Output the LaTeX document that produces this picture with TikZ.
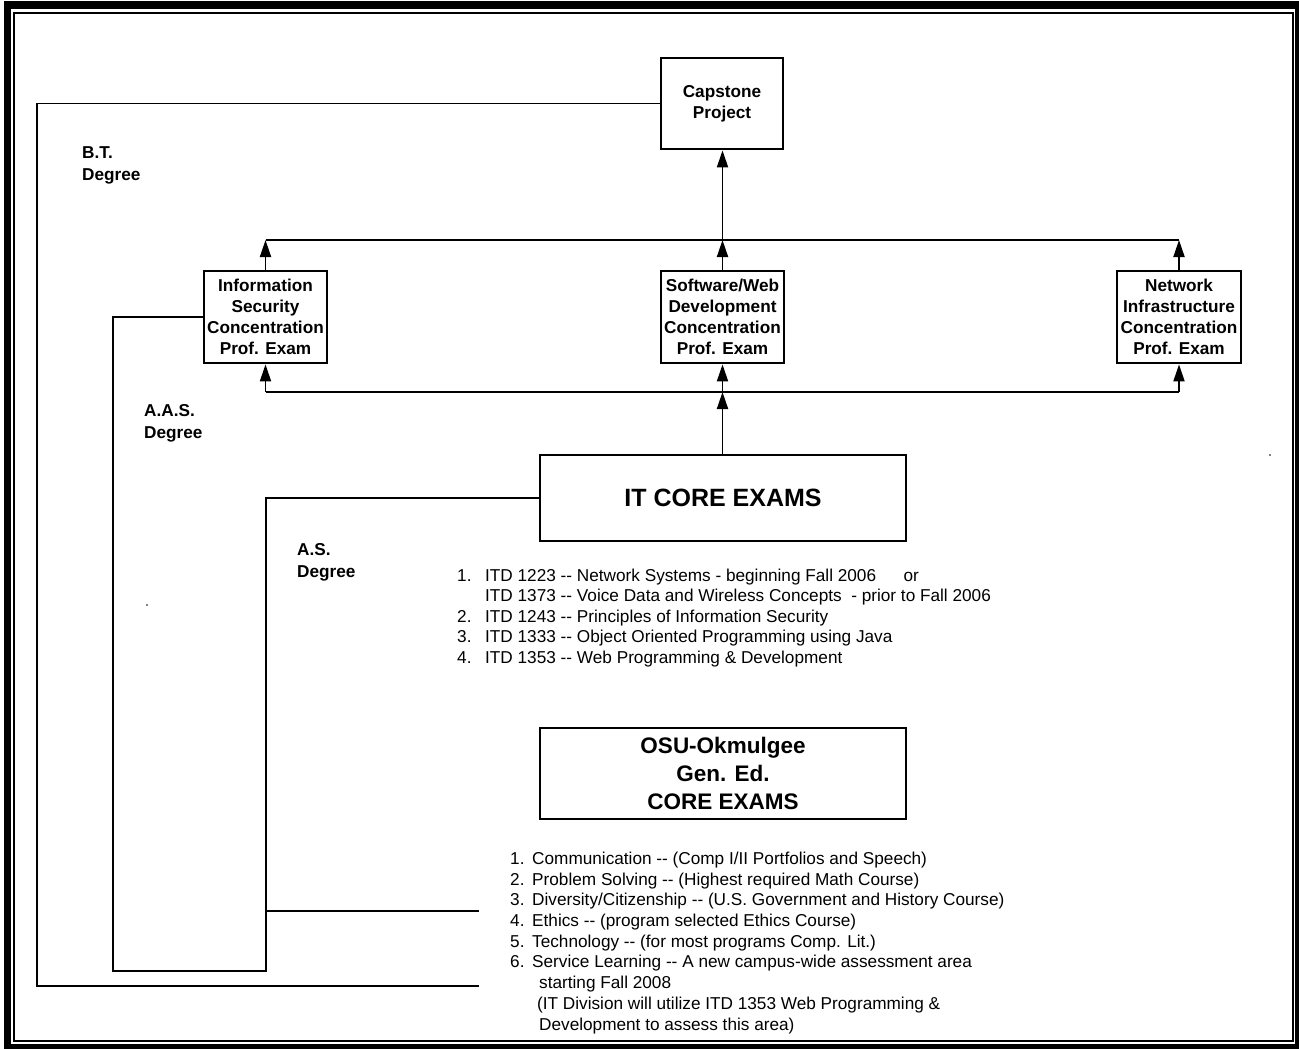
\documentclass[tikz,border=0pt]{standalone}
\usepackage{fontspec}
\setmainfont{Liberation Sans}
\usetikzlibrary{arrows.meta}
\newcommand{\dd}{-{}-}
\begin{document}
\begin{tikzpicture}[x=1pt,y=-1pt,
  box/.style={draw,line width=2.8pt,inner sep=0pt,align=center,font=\bfseries\fontsize{17.2}{21}\selectfont},
  conn/.style={line width=1.9pt},
  arr/.style={conn,-{Triangle[length=17pt,width=11pt]}},
  lbl/.style={align=left,font=\bfseries\fontsize{17.2}{22}\selectfont,anchor=north west,inner sep=0pt},
  item/.style={anchor=base west,inner sep=0pt,font=\fontsize{17.2}{20}\selectfont}]
\useasboundingbox (0,0) rectangle (1299,1049);
% frame
\draw[line width=7.5pt] (7.5,5) rectangle (1298.5,1047.5);
\draw[line width=2pt] (13.5,13) rectangle (1292.5,1041);

% boxes
\node[box,minimum width=122pt,minimum height=91pt] (cap) at (722,103.5) {Capstone\\Project};
\node[box,minimum width=123pt,minimum height=92pt] (is) at (265.5,317) {Information\\Security\\Concentration\\Prof. Exam};
\node[box,minimum width=123pt,minimum height=92pt] (sw) at (722.5,317) {Software/Web\\Development\\Concentration\\Prof. Exam};
\node[box,minimum width=124pt,minimum height=92pt] (ni) at (1179,317) {Network\\Infrastructure\\Concentration\\Prof. Exam};
\node[box,minimum width=366pt,minimum height=86pt,font=\bfseries\fontsize{25}{30}\selectfont] (itc) at (723,498) {IT CORE EXAMS};
\node[box,minimum width=366pt,minimum height=91pt,font=\bfseries\fontsize{22.5}{28}\selectfont] (osu) at (723,773.5) {OSU-Okmulgee\\Gen. Ed.\\CORE EXAMS};

% buses and arrows
\coordinate (bt) at (722.5,240);
\coordinate (bb) at (722.5,392);
\draw[conn] (is.north |- bt) -- (ni.north |- bt);
\draw[conn] (is.south |- bb) -- (ni.south |- bb);
\draw[arr] (is.north) -- (is.north |- bt);
\draw[arr] (sw.north) -- (sw.north |- bt);
\draw[arr] (ni.north) -- (ni.north |- bt);
\draw[arr] (bt) -- (bt |- cap.south);
\draw[arr] (is.south |- bb) -- (is.south);
\draw[arr] (sw.south |- bb) -- (sw.south);
\draw[arr] (ni.south |- bb) -- (ni.south);
\draw[arr] (bb |- itc.north) -- (bb);

% degree paths
\coordinate (btc) at (37,986);
\coordinate (btend) at (479,986);
\coordinate (aasc) at (113,971);
\coordinate (aasend) at (266,971);
\coordinate (asc) at (266,911);
\coordinate (asend) at (479,911);
\draw[conn] (cap.west) -| (btc) -- (btend);
\draw[conn] (is.west) -| (aasc) -- (aasend) -- (asc);
\draw[conn] (itc.west) -| (asc) -- (asend);

% degree labels
\node[lbl] (lbt) at (82,146) {B.T.\\Degree};
\node[lbl] (laas) at (144,404) {A.A.S.\\Degree};
\node[lbl] (las) at (297,543) {A.S.\\Degree};

% IT core list
\node[item] (it1) at (457,581) {\makebox[28pt][l]{1.}ITD 1223 \dd{} Network Systems - beginning Fall 2006\hspace{1.6em}or};
\node[item] (it1b) at (485,601.5) {ITD 1373 \dd{} Voice Data and Wireless Concepts \ - prior to Fall 2006};
\node[item] (it2) at (457,622) {\makebox[28pt][l]{2.}ITD 1243 \dd{} Principles of Information Security};
\node[item] (it3) at (457,642.5) {\makebox[28pt][l]{3.}ITD 1333 \dd{} Object Oriented Programming using Java};
\node[item] (it4) at (457,663) {\makebox[28pt][l]{4.}ITD 1353 \dd{} Web Programming \& Development};

% Gen ed list
\node[item] (g1) at (510,864) {\makebox[22pt][l]{1.}Communication \dd{} (Comp I/II Portfolios and Speech)};
\node[item] (g2) at (510,885) {\makebox[22pt][l]{2.}Problem Solving \dd{} (Highest required Math Course)};
\node[item] (g3) at (510,905) {\makebox[22pt][l]{3.}Diversity/Citizenship \dd{} (U.S. Government and History Course)};
\node[item] (g4) at (510,926) {\makebox[22pt][l]{4.}Ethics \dd{} (program selected Ethics Course)};
\node[item] (g5) at (510,947) {\makebox[22pt][l]{5.}Technology \dd{} (for most programs Comp. Lit.)};
\node[item] (g6) at (510,967) {\makebox[22pt][l]{6.}Service Learning \dd{} A new campus-wide assessment area};
\node[item] (g6b) at (539,988) {starting Fall 2008};
\node[item] (g6c) at (537,1009) {(IT Division will utilize ITD 1353 Web Programming \&};
\node[item] (g6d) at (539,1030) {Development to assess this area)};

% stray dots
\fill (1270,455) circle (0.8pt);
\fill (147,605) circle (0.8pt);
\end{tikzpicture}
\end{document}
